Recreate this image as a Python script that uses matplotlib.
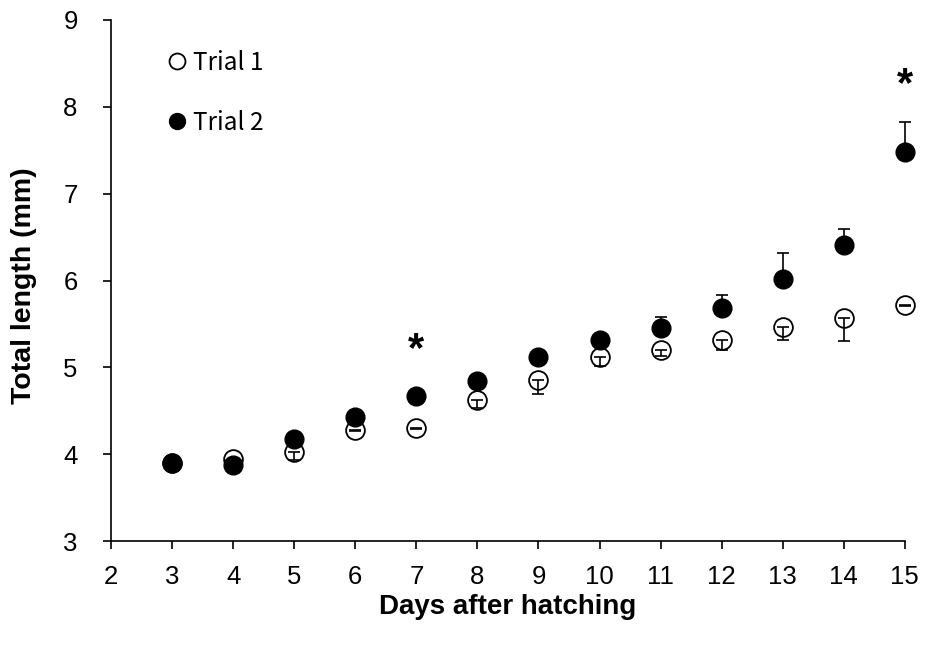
import matplotlib
matplotlib.use("Agg")
import matplotlib.pyplot as plt

# total length of larvae by day, mean with one-sided error bars
days = [3, 4, 5, 6, 7, 8, 9, 10, 11, 12, 13, 14, 15]

trial1 = [3.90, 3.95, 4.02, 4.28, 4.30, 4.62, 4.85, 5.12, 5.20, 5.32, 5.47, 5.57, 5.72]
trial1_err = [0.0, 0.0, 0.09, 0.01, 0.01, 0.09, 0.16, 0.11, 0.07, 0.12, 0.15, 0.27, 0.01]

trial2 = [3.90, 3.88, 4.17, 4.43, 4.67, 4.84, 5.12, 5.31, 5.45, 5.68, 6.02, 6.41, 7.48]
trial2_err = [0.0, 0.0, 0.0, 0.02, 0.01, 0.0, 0.0, 0.0, 0.13, 0.15, 0.30, 0.18, 0.34]

# significance marks
star_days = [7, 15]
star_y = [5.20, 8.25]

plt.rcParams["font.family"] = ["Liberation Sans", "DejaVu Sans"]

fig = plt.figure(figsize=(9.29, 6.45), dpi=100)
ax = fig.add_axes([0.1195, 0.1612, 0.8545, 0.8078])

zeros = [0] * len(days)

t1, = ax.plot(days, trial1, "o", ms=13.5, mfc="white", mec="black", mew=1.3,
              label="Trial 1", zorder=3, clip_on=False)
ax.errorbar(days, trial1, yerr=[trial1_err, zeros], fmt="none", ecolor="black",
            elinewidth=1.2, capsize=4, capthick=1.2, zorder=4, clip_on=False)

t2, = ax.plot(days, trial2, "o", ms=13.5, mfc="black", mec="black", mew=1.0,
              label="Trial 2", zorder=5, clip_on=False)
ax.errorbar(days, trial2, yerr=[zeros, trial2_err], fmt="none", ecolor="black",
            elinewidth=1.2, capsize=4, capthick=1.2, zorder=6, clip_on=False)

for d, y in zip(star_days, star_y):
    ax.text(d, y, "*", ha="center", va="center", fontsize=30, fontweight="bold")

ax.set_xlim(2, 15)
ax.set_ylim(3, 9)
ax.set_xticks(range(2, 16))
ax.set_yticks(range(3, 10))

for s in ["top", "right"]:
    ax.spines[s].set_visible(False)
for s in ["left", "bottom"]:
    ax.spines[s].set_linewidth(1.2)
    ax.spines[s].set_zorder(10)

ax.tick_params(axis="both", direction="out", length=6, width=1.2, labelsize=18.5)
ax.tick_params(axis="y", pad=18)
ax.tick_params(axis="x", pad=11)

ax.set_xlabel("Days after hatching", fontsize=20, fontweight="bold", labelpad=4)
ax.set_ylabel("Total length (mm)", fontsize=20.5, fontweight="bold")
ax.yaxis.set_label_coords(-0.093, 0.49, transform=ax.transAxes)

ax.legend(handles=[t1, t2], loc="upper left", bbox_to_anchor=(0.047, 0.985),
          frameon=False, handlelength=0.6, handletextpad=0.35,
          labelspacing=1.4, markerscale=0.85,
          prop={"family": ["Noto Sans CJK JP", "DejaVu Sans"], "size": 17.5})

fig.savefig("out.png", dpi=100)
